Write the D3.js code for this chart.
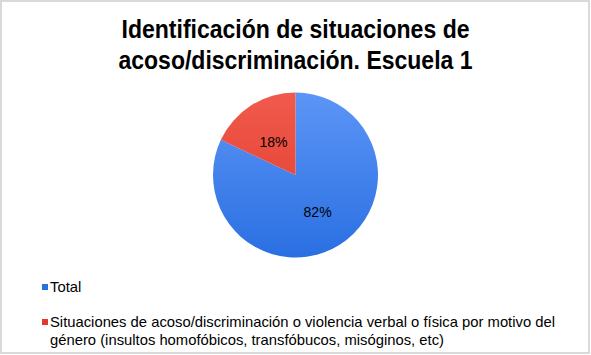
<!DOCTYPE html>
<html>
<head>
<meta charset="utf-8">
<script src="https://cdn.jsdelivr.net/npm/d3@7"></script>
<style>
  body { margin: 0; background: #fff; }
  text { font-family: "Liberation Sans", Arial, sans-serif; }
</style>
</head>
<body>
<div class="container"></div>
<script>
// datos
var categorias = ["Total", "Situaciones de acoso/discriminación o violencia verbal o física por motivo del género (insultos homofóbicos, transfóbucos, misóginos, etc)"];
var valores = [82, 18];
var etiquetas = ["82%", "18%"];
var leyendaLineas = [
  ["Total"],
  ["Situaciones de acoso/discriminación o violencia verbal o física por motivo del",
   "género (insultos homofóbicos, transfóbucos, misóginos, etc)"]
];
var tituloLineas = ["Identificación de situaciones de", "acoso/discriminación. Escuela 1"];

// tamaño del lienzo
var w = 591, h = 355;
var cx = 295.5, cy = 175, r = 82.5;

var svg = d3.select(".container")
  .append("svg")
  .attr("width", w)
  .attr("height", h);

// borde
svg.append("rect")
  .attr("x", 1).attr("y", 1)
  .attr("width", w - 3).attr("height", h - 3)
  .style("fill", "#fff")
  .style("stroke", "#d9d9d9")
  .style("stroke-width", 2);

// degradados
var colores = [["#5c95f6", "#2a6fe2"], ["#f05a4c", "#e1392a"]];
var defs = svg.append("defs");
colores.forEach(function(c, i) {
  var g = defs.append("linearGradient")
    .attr("id", "grad" + i)
    .attr("gradientUnits", "userSpaceOnUse")
    .attr("x1", 0).attr("y1", -r)
    .attr("x2", 0).attr("y2", r);
  g.append("stop").attr("offset", "0%").attr("stop-color", c[0]);
  g.append("stop").attr("offset", "100%").attr("stop-color", c[1]);
});

// título
svg.selectAll(".titulo")
  .data(tituloLineas)
  .enter()
  .append("text")
  .attr("class", "titulo")
  .attr("x", 295.5)
  .attr("y", function(d, i) { return 38 + i * 30.5; })
  .attr("text-anchor", "middle")
  .attr("textLength", function(d, i) { return i == 0 ? 348 : 354; })
  .attr("lengthAdjust", "spacingAndGlyphs")
  .style("font-size", "26px")
  .style("font-weight", "bold")
  .style("fill", "#000")
  .text(function(d) { return d; });

// pastel
var pie = d3.pie().sort(null);
var arc = d3.arc().innerRadius(0).outerRadius(r);
var arcLabel = d3.arc().innerRadius(r * 0.5).outerRadius(r * 0.5);
var arcs = pie(valores);

var g = svg.append("g").attr("transform", "translate(" + cx + "," + cy + ")");
g.selectAll("path")
  .data(arcs)
  .enter()
  .append("path")
  .attr("d", arc)
  .style("fill", function(d, i) { return "url(#grad" + i + ")"; });

g.selectAll(".etq")
  .data(arcs)
  .enter()
  .append("text")
  .attr("class", "etq")
  .attr("transform", function(d, i) {
    var p = arcLabel.centroid(d);
    return "translate(" + p[0] + "," + p[1] + ")";
  })
  .attr("dy", "0.5em")
  .attr("text-anchor", "middle")
  .style("font-size", "14px")
  .style("fill", "#000")
  .text(function(d, i) { return etiquetas[i]; });

// leyenda
var ley = svg.append("g").attr("class", "leyenda");
var leyY = [292, 327];
var item = ley.selectAll(".item")
  .data(categorias)
  .enter()
  .append("g")
  .attr("class", "item")
  .attr("transform", function(d, i) { return "translate(42," + leyY[i] + ")"; });

item.append("rect")
  .attr("x", 0).attr("y", -8)
  .attr("width", 6).attr("height", 6)
  .style("fill", function(d, i) { return colores[i][1]; });

item.append("text")
  .style("font-size", "14.8px")
  .style("fill", "#000")
  .selectAll("tspan")
  .data(function(d, i) { return leyendaLineas[i]; })
  .enter()
  .append("tspan")
  .attr("x", 8)
  .attr("y", function(d, j) { return j * 18; })
  .text(function(d) { return d; });
</script>
</body>
</html>
